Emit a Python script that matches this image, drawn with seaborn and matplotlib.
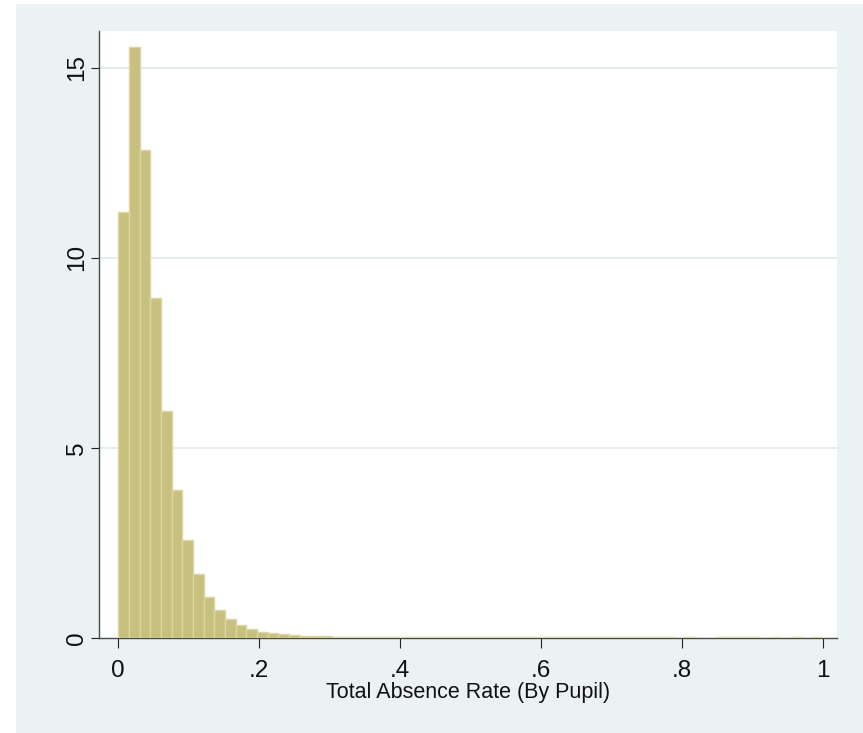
import numpy as np
import pandas as pd
import matplotlib
matplotlib.use("Agg")
import matplotlib.pyplot as plt
from matplotlib.patches import Rectangle
import seaborn as sns

# Histogram (density) of pupil absence rate, 66 equal bins over [0, 1]
BIN_MIN = 0.0
BIN_MAX = 1.0
DENSITY = [
    11.2, 15.55, 12.83, 8.95, 5.97, 3.90, 2.57, 1.67, 1.07, 0.72,
    0.50, 0.34, 0.22, 0.16, 0.12, 0.09, 0.07, 0.055, 0.04, 0.033,
    0.028, 0.025, 0.022, 0.022, 0.02, 0.02, 0.02, 0.02, 0.02, 0.02,
    0.02, 0.02, 0.02, 0.02, 0.02, 0.02, 0.02, 0.02, 0.02, 0.02,
    0.02, 0.02, 0.02, 0.02, 0.02, 0.02, 0.02, 0.02, 0.02, 0.02,
    0.02, 0.02, 0.0, 0.015, 0.0, 0.0, 0.015, 0.015, 0.015, 0.015,
    0.0, 0.015, 0.0, 0.015, 0.0, 0.015,
]
X_TICKS = [0, 0.2, 0.4, 0.6, 0.8, 1.0]
X_TICK_LABELS = ["0", ".2", ".4", ".6", ".8", "1"]
Y_TICKS = [0, 5, 10, 15]
Y_TICK_LABELS = ["0", "5", "10", "15"]
X_LABEL = "Total Absence Rate (By Pupil)"

OUTER_BG = "#eaf2f3"
BAR_FILL = "#c8c07e"
BAR_EDGE = "#dcd6a2"
GRID = "#e3ecef"

sns.set_theme(style="white")
plt.rcParams["font.family"] = ["Liberation Sans", "DejaVu Sans"]

edges = np.linspace(BIN_MIN, BIN_MAX, len(DENSITY) + 1)
hist_df = pd.DataFrame({
    "rate": (edges[:-1] + edges[1:]) / 2,
    "density": DENSITY,
})

fig = plt.figure(figsize=(8.63, 7.33), dpi=100, facecolor=OUTER_BG)
# white strips left/top (screenshot border)
fig.patches.append(Rectangle((0, 0), 16 / 863, 1, transform=fig.transFigure,
                             facecolor="white", edgecolor="none", zorder=0))
fig.patches.append(Rectangle((0, 1 - 4 / 733), 1, 4 / 733, transform=fig.transFigure,
                             facecolor="white", edgecolor="none", zorder=0))

ax = fig.add_axes([99.3 / 863, 1 - 637.7 / 733, (836.7 - 99.3) / 863, (637.7 - 31) / 733])
ax.set_facecolor("white")

sns.histplot(data=hist_df, x="rate", weights="density", bins=list(edges), stat="count",
             ax=ax, color=BAR_FILL, alpha=1.0, edgecolor=BAR_EDGE, linewidth=1.0, zorder=2)

ax.set_xlim(-0.02696, 1.0194)
ax.set_ylim(0, 15.97)

for y in Y_TICKS[1:]:
    ax.axhline(y, color=GRID, linewidth=1.4, zorder=1)

for side in ("top", "right"):
    ax.spines[side].set_visible(False)
for side in ("left", "bottom"):
    ax.spines[side].set_color("#4a4a4a")
    ax.spines[side].set_linewidth(1.0)
    ax.spines[side].set_zorder(1.5)

ax.set_xticks(X_TICKS)
ax.set_xticklabels(X_TICK_LABELS)
ax.set_yticks(Y_TICKS)
ax.set_yticklabels(Y_TICK_LABELS)
ax.tick_params(axis="x", length=7.2, width=0.8, color="#222222", pad=8.5,
               labelsize=17.5, labelcolor="#111111", bottom=True)
ax.tick_params(axis="y", length=5.8, width=0.8, color="#222222", pad=2,
               labelsize=17.5, labelcolor="#111111", labelrotation=90, left=True)
for lab in ax.get_yticklabels():
    lab.set_va("center")

ax.set_xlabel(X_LABEL, fontsize=15.5, color="#111111", labelpad=0.3)
ax.set_ylabel("")

fig.savefig("out.png", dpi=100, facecolor=OUTER_BG)
